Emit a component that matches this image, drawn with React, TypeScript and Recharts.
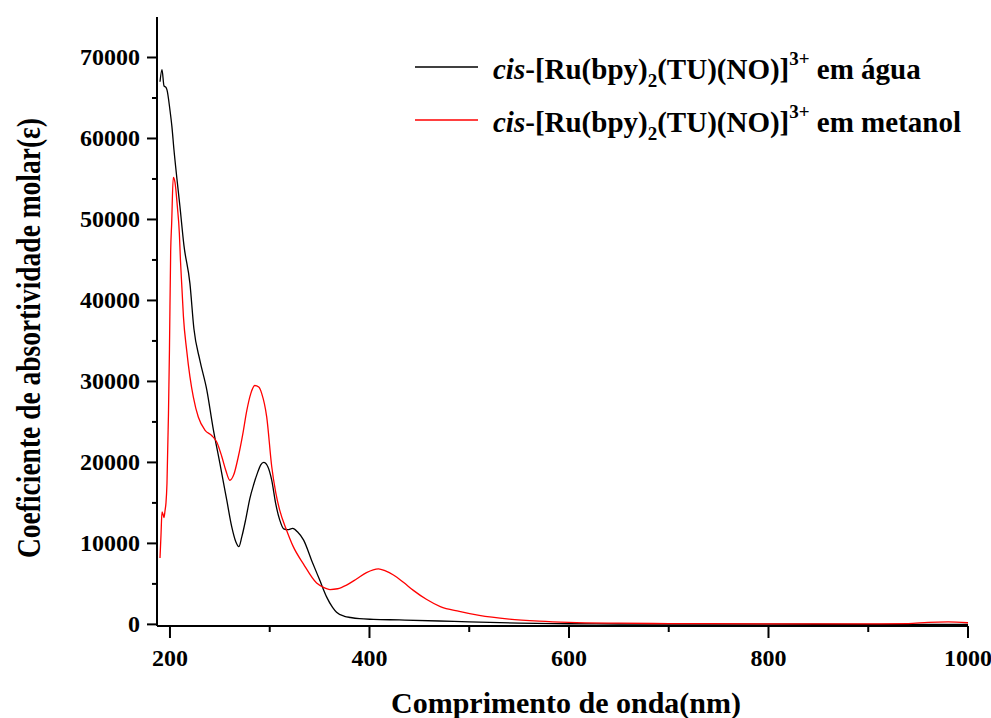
import React from 'react';
import { LineChart, Line, XAxis, YAxis } from 'recharts';

// Wavelength (nm) and molar absorptivity for the complex in water
const aguaWavelength = [190, 192, 194, 196, 197, 200, 202, 204, 207, 210, 214, 220, 224, 230, 237, 243, 250, 257, 262, 266, 269, 272, 276, 280, 284, 288, 291, 294, 298, 302, 306, 310, 314, 318, 323, 328, 334, 342, 350, 357, 363, 367, 375, 381, 390, 404, 430, 470, 500, 550, 600, 650, 700, 800, 900, 1000];
const aguaEpsilon = [67000, 68500, 66500, 66300, 66000, 63500, 61400, 58600, 55000, 51600, 46800, 42100, 36500, 32600, 28900, 24400, 19900, 15300, 12000, 10200, 9600, 10800, 13000, 15500, 17300, 18800, 19700, 20000, 19500, 17800, 14900, 12900, 11800, 11700, 11850, 11400, 10400, 7900, 5500, 3400, 2100, 1500, 1000, 850, 700, 620, 550, 420, 300, 150, 80, 50, 30, 20, 10, 0];

// Wavelength (nm) and molar absorptivity for the complex in methanol
const metanolWavelength = [190, 191, 192, 193, 194, 195, 196, 197, 198.5, 199.5, 200.7, 201.7, 203.3, 205, 207.4, 209.4, 210.5, 212, 213.5, 216.7, 220, 223.4, 228.4, 235, 242, 247, 252, 256, 260, 264, 268.5, 273, 277, 281, 285, 289, 292, 297, 302, 306, 310, 317, 323.6, 333.6, 347, 355, 360.4, 368, 377, 387, 397, 409, 416, 424, 434, 444, 457, 471, 490, 510, 540, 570, 600, 650, 700, 800, 900, 940, 960, 980, 1000];
const metanolEpsilon = [8200, 11000, 13900, 13600, 13200, 14000, 15000, 17400, 26000, 34000, 46000, 49500, 55200, 54600, 51600, 48300, 45000, 41500, 38000, 33900, 30600, 28100, 25600, 24000, 23300, 22500, 20700, 19000, 17800, 18500, 20700, 23500, 26400, 28500, 29500, 29300, 28500, 25600, 19500, 16300, 14100, 11600, 9600, 7500, 5100, 4500, 4300, 4400, 4850, 5600, 6400, 6860, 6600, 6100, 5200, 4200, 3100, 2200, 1600, 1100, 650, 400, 250, 150, 100, 70, 60, 100, 250, 300, 200];

const xTicks = [200, 300, 400, 500, 600, 700, 800, 900, 1000];
const xLabelTicks = [200, 400, 600, 800, 1000];
const yTicks = [0, 5000, 10000, 15000, 20000, 25000, 30000, 35000, 40000, 45000, 50000, 55000, 60000, 65000, 70000];
const yLabelTicks = [0, 10000, 20000, 30000, 40000, 50000, 60000, 70000];

const xTitle = 'Comprimento de onda(nm)';
const yTitle = 'Coeficiente de absortividade molar(\u03B5)';
const seriesNames = ['em água', 'em metanol'];
const seriesColors = ['#000000', '#ff0000'];

const aguaData = aguaWavelength.map((wl, i) => ({ wl, eps: aguaEpsilon[i] }));
const metanolData = metanolWavelength.map((wl, i) => ({ wl, eps: metanolEpsilon[i] }));

const FONT = '"Liberation Serif", "Times New Roman", serif';

const XTick = (props: any) => {
  const { x, y, payload } = props;
  const v = payload.value;
  const major = xLabelTicks.includes(v);
  return (
    <g>
      <line x1={x} y1={y} x2={x} y2={y + (major ? 12 : 6)} stroke="#000" strokeWidth={2} />
      {major && (
        <text x={x} y={y + 40} textAnchor="middle" fontSize={24} fontWeight="bold" fontFamily={FONT} fill="#000">
          {v}
        </text>
      )}
    </g>
  );
};

const YTick = (props: any) => {
  const { x, y, payload } = props;
  const v = payload.value;
  const major = yLabelTicks.includes(v);
  return (
    <g>
      <line x1={x - (major ? 10 : 5)} y1={y} x2={x} y2={y} stroke="#000" strokeWidth={2} />
      {major && (
        <text x={x - 17} y={y + 8} textAnchor="end" fontSize={24} fontWeight="bold" fontFamily={FONT} fill="#000">
          {v}
        </text>
      )}
    </g>
  );
};

const XTitle = () => (
  <text x={566} y={713} textAnchor="middle" fontSize={30} fontWeight="bold" fontFamily={FONT} fill="#000">
    {xTitle}
  </text>
);

const YTitle = () => (
  <text
    x={40}
    y={338}
    transform="rotate(-90 40 338)"
    textAnchor="middle"
    fontSize={34}
    fontWeight="bold"
    fontFamily={FONT}
    fill="#000"
    textLength={440}
    lengthAdjust="spacingAndGlyphs"
  >
    {yTitle}
  </text>
);

const LegendBox = () => (
  <div
    style={{
      position: 'absolute',
      left: 415,
      top: 43,
      fontFamily: FONT,
      fontWeight: 'bold',
      fontSize: 29,
      color: '#000',
      lineHeight: '53px',
    }}
  >
    {seriesNames.map((name, i) => (
      <div key={name} style={{ display: 'flex', alignItems: 'center', whiteSpace: 'nowrap', height: 53 }}>
        <svg width={63} height={4} style={{ marginRight: 15, marginTop: -6 }}>
          <line x1={0} y1={2} x2={63} y2={2} stroke={seriesColors[i]} strokeWidth={1.3} />
        </svg>
        <span>
          <i>cis</i>-[Ru(bpy)
          <sub style={{ fontSize: 19, verticalAlign: '-0.4em', lineHeight: 0 }}>2</sub>
          (TU)(NO)]
          <sup style={{ fontSize: 19, verticalAlign: '0.75em', lineHeight: 0 }}>3+</sup> {name}
        </span>
      </div>
    ))}
  </div>
);

export default function App() {
  return (
    <div style={{ position: 'absolute', left: 0, top: 0, width: 991, height: 718, background: '#fff' }}>
      <LineChart width={991} height={718} margin={{ top: 17, right: 23, left: 0, bottom: 0 }}>
        <XAxis
          type="number"
          dataKey="wl"
          domain={[187, 1000]}
          allowDataOverflow
          ticks={xTicks}
          interval={0}
          tickSize={0}
          tickMargin={0}
          tickLine={false}
          tick={<XTick />}
          height={92}
          axisLine={{ stroke: '#000', strokeWidth: 2 }}
          label={<XTitle />}
        />
        <YAxis
          type="number"
          dataKey="eps"
          domain={[-200, 75000]}
          allowDataOverflow
          ticks={yTicks}
          interval={0}
          tickSize={0}
          tickMargin={0}
          tickLine={false}
          tick={<YTick />}
          width={157}
          axisLine={{ stroke: '#000', strokeWidth: 2 }}
          label={<YTitle />}
        />
        <Line
          data={aguaData}
          dataKey="eps"
          name={seriesNames[0]}
          type="monotone"
          stroke={seriesColors[0]}
          strokeWidth={1.3}
          dot={false}
          isAnimationActive={false}
        />
        <Line
          data={metanolData}
          dataKey="eps"
          name={seriesNames[1]}
          type="monotone"
          stroke={seriesColors[1]}
          strokeWidth={1.3}
          dot={false}
          isAnimationActive={false}
        />
      </LineChart>
      <LegendBox />
    </div>
  );
}
